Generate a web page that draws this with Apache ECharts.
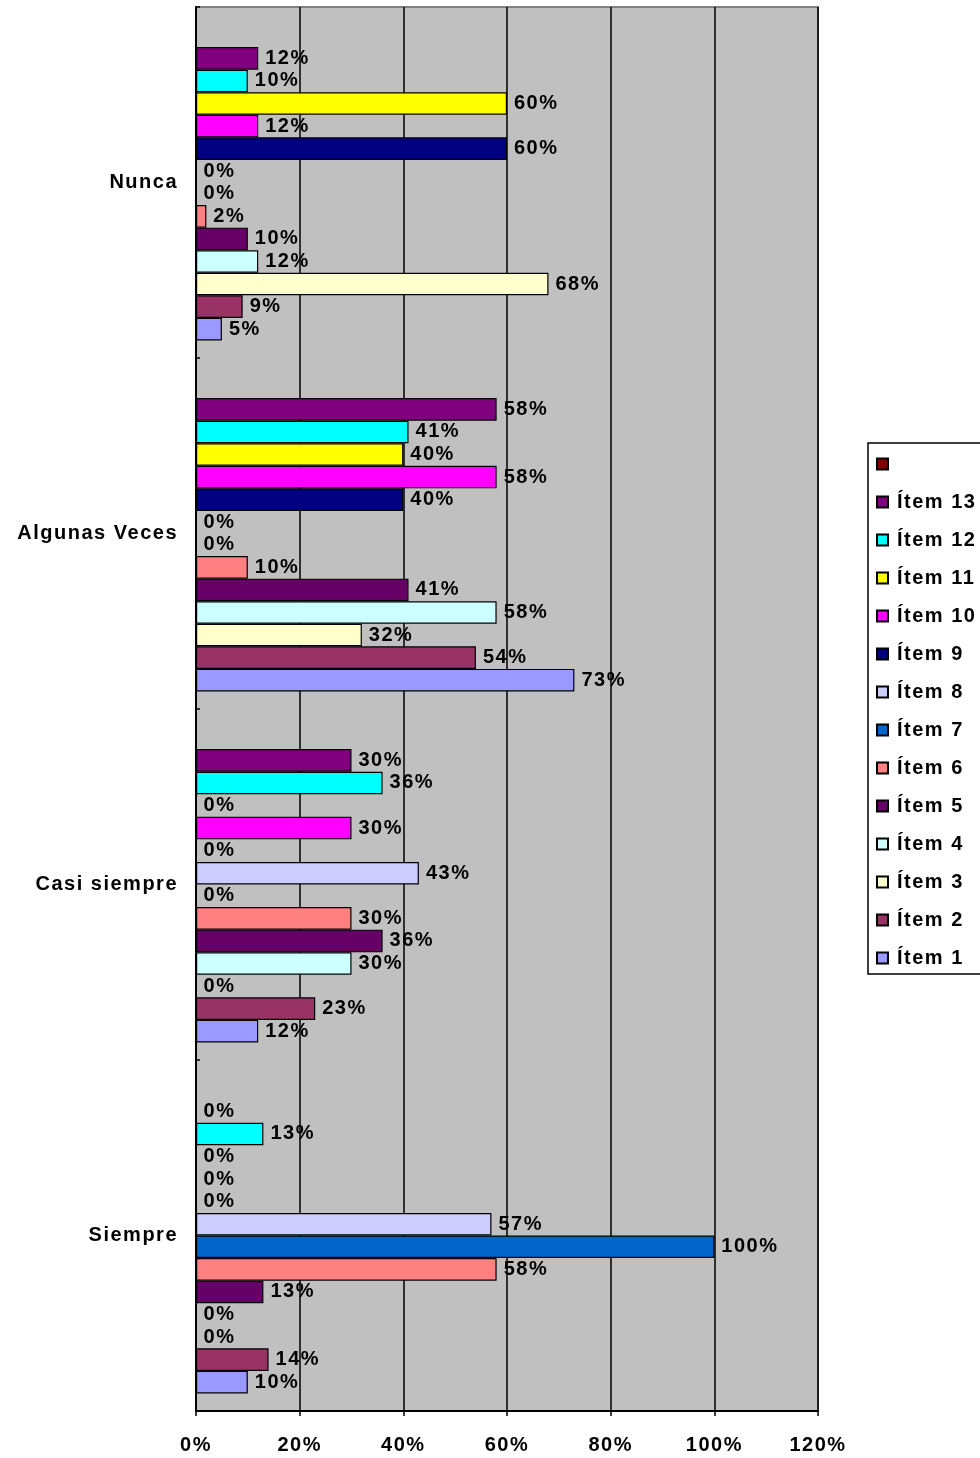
<!DOCTYPE html>
<html>
<head>
<meta charset="utf-8">
<script src="https://cdn.jsdelivr.net/npm/echarts@6/dist/echarts.min.js"></script>
<style>
html, body { margin: 0; padding: 0; background: #fff; }
#chart { width: 980px; height: 1458px; }
</style>
</head>
<body>
<div id="chart"></div>
<script>
// categories bottom -> top
const categories = ['Siempre', 'Casi siempre', 'Algunas Veces', 'Nunca']
const xTicks = [0, 20, 40, 60, 80, 100, 120]

// percent values per item, same order as categories
const item13 = [0, 30, 58, 12]
const item12 = [13, 36, 41, 10]
const item11 = [0, 0, 40, 60]
const item10 = [0, 30, 58, 12]
const item9 = [0, 0, 40, 60]
const item8 = [57, 43, 0, 0]
const item7 = [100, 0, 0, 0]
const item6 = [58, 30, 10, 2]
const item5 = [13, 36, 41, 10]
const item4 = [0, 30, 58, 12]
const item3 = [0, 0, 32, 68]
const item2 = [14, 23, 54, 9]
const item1 = [10, 12, 73, 5]
const blank = [null, null, null, null]

const seriesNames = ['\u00a0', 'Ítem 13', 'Ítem 12', 'Ítem 11', 'Ítem 10', 'Ítem 9', 'Ítem 8',
  'Ítem 7', 'Ítem 6', 'Ítem 5', 'Ítem 4', 'Ítem 3', 'Ítem 2', 'Ítem 1']
const seriesValues = [blank, item13, item12, item11, item10, item9, item8,
  item7, item6, item5, item4, item3, item2, item1]
const seriesColors = ['#800000', '#800080', '#00FFFF', '#FFFF00', '#FF00FF', '#000080', '#CCCCFF',
  '#0066CC', '#FF8080', '#660066', '#CCFFFF', '#FFFFCC', '#993366', '#9999FF']

const FONT = 'Arial, "Liberation Sans", sans-serif'

// the original (Excel) text is drawn a bit spaced out
const _fillText = CanvasRenderingContext2D.prototype.fillText
CanvasRenderingContext2D.prototype.fillText = function () {
  this.letterSpacing = '1.5px'
  return _fillText.apply(this, arguments)
}

let chart = echarts.init(document.getElementById('chart'), null, {renderer: 'canvas'})

let series = seriesNames.map((name, i) => ({
  name: name,
  type: 'bar',
  data: seriesValues[i],
  barGap: '0%',
  barCategoryGap: '10%',
  itemStyle: {
    color: seriesColors[i],
    borderColor: '#000',
    borderWidth: 1.2
  },
  label: {
    show: true,
    position: 'right',
    distance: 7,
    formatter: p => p.value + '%',
    color: '#000',
    fontFamily: FONT,
    fontWeight: 'bold',
    fontSize: 20
  },
  emphasis: {disabled: true},
  animation: false
}))

let option = {
  animation: false,
  grid: {
    left: 196,
    right: 162,
    top: 7,
    bottom: 47,
    show: true,
    backgroundColor: '#C0C0C0',
    borderColor: '#808080',
    borderWidth: 2
  },
  legend: {
    orient: 'vertical',
    left: 868,
    top: 443,
    data: seriesNames,
    icon: 'rect',
    itemWidth: 11,
    itemHeight: 11,
    itemGap: 18,
    padding: [11, 40, 6, 8],
    borderColor: '#000',
    borderWidth: 1.5,
    backgroundColor: '#fff',
    selectedMode: false,
    textStyle: {
      color: '#000',
      fontFamily: FONT,
      fontWeight: 'bold',
      fontSize: 20,
      lineHeight: 20,
      padding: [0, 0, 0, 4]
    }
  },
  xAxis: {
    type: 'value',
    min: 0,
    max: 120,
    interval: 20,
    axisLine: {show: true, lineStyle: {color: '#000', width: 2}},
    axisTick: {show: true, length: 5, lineStyle: {color: '#000', width: 1.5}},
    axisLabel: {
      margin: 24,
      color: '#000',
      fontFamily: FONT,
      fontWeight: 'bold',
      fontSize: 20,
      formatter: v => (xTicks.indexOf(v) >= 0 ? v + '%' : '')
    },
    splitLine: {show: true, lineStyle: {color: '#000', width: 1.5}}
  },
  yAxis: {
    type: 'category',
    data: categories,
    axisLine: {show: true, lineStyle: {color: '#000', width: 2}},
    axisTick: {show: true, inside: true, length: 4, lineStyle: {color: '#000', width: 1.5}},
    axisLabel: {
      margin: 18,
      color: '#000',
      fontFamily: FONT,
      fontWeight: 'bold',
      fontSize: 20
    },
    splitLine: {show: false}
  },
  series: series
}

chart.setOption(option)
</script>
</body>
</html>
